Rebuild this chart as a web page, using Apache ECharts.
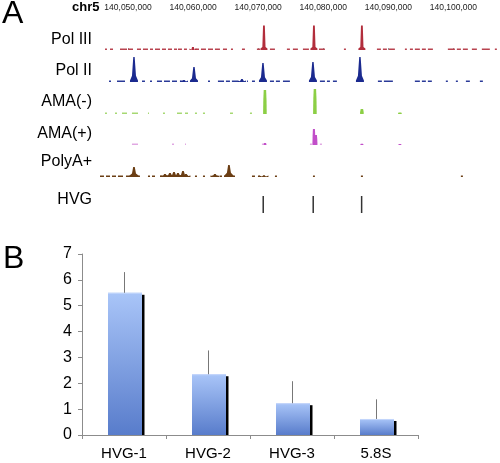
<!DOCTYPE html>
<html><head><meta charset="utf-8">
<script src="https://cdn.jsdelivr.net/npm/echarts@6/dist/echarts.min.js"></script>
<style>html,body{margin:0;padding:0;background:#fff}#c{width:500px;height:463px}</style>
</head><body><div id="c"></div>
<script>
// ---------- Panel A: chr5 positions in kb ----------
const genomeRange = [140045.7, 140106.7];
const tickPositions = [140050, 140060, 140070, 140080, 140090, 140100];
const trackNames = ['Pol III', 'Pol II', 'AMA(-)', 'AMA(+)', 'PolyA+', 'HVG'];

// peaks: [position kb, signal]
const polIIIPeaks = [[140070.89, 24.5], [140078.57, 24.5], [140085.94, 24.5], [140059.98, 3]];
const polIIINoise = [[140046.47,140046.77],[140047.24,140047.70],[140048.77,140049.85],[140050.00,140050.77],[140051.38,140052.00],[140052.30,140053.07],[140053.38,140053.84],[140054.15,140054.92],[140055.22,140055.84],[140056.14,140056.76],[140057.07,140057.53],[140057.68,140058.29],[140058.60,140059.06],[140060.29,140060.91],[140061.21,140061.98],[140062.29,140063.06],[140063.36,140064.13],[140064.59,140065.21],[140065.82,140066.13],[140067.51,140067.97],[140069.81,140070.28],[140071.81,140072.58],[140074.42,140074.88],[140075.34,140076.11],[140076.88,140077.80],[140079.34,140080.26],[140083.18,140083.49],[140088.25,140088.86],[140089.17,140089.78],[140090.09,140091.01],[140092.55,140092.85],[140093.32,140093.78],[140094.08,140094.85],[140095.16,140095.77],[140096.08,140096.85],[140099.15,140100.23],[140100.53,140101.15],[140101.46,140102.22],[140102.84,140103.61],[140104.37,140105.60],[140106.37,140106.68]];

const polIIPeaks = [[140050.92, 25], [140060.14, 15], [140070.74, 19], [140078.42, 20], [140085.64, 25], [140067.51, 3], [140058.60, 2]];
const polIINoise = [[140047.08,140047.39],[140048.31,140049.54],[140052.15,140052.61],[140053.38,140053.69],[140054.45,140055.22],[140055.53,140056.45],[140056.76,140057.53],[140057.99,140058.45],[140062.29,140062.60],[140063.82,140064.75],[140065.05,140065.67],[140065.97,140066.90],[140068.28,140068.43],[140069.05,140069.51],[140071.81,140072.43],[140072.73,140073.35],[140073.81,140074.88],[140079.49,140080.26],[140080.57,140081.03],[140081.49,140082.10],[140088.40,140089.01],[140089.32,140090.70],[140094.08,140094.85],[140095.16,140095.77],[140096.08,140096.69],[140098.84,140099.15],[140100.38,140100.69],[140101.92,140102.53],[140104.07,140104.53]];

const amaMinusPeaks = [[140071.04, 24], [140078.72, 25], [140085.94, 5], [140091.78, 1.5]];
const amaMinusNoise = [[140046.47,140046.77],[140048.00,140048.31],[140049.08,140049.85],[140050.61,140051.54],[140053.07,140053.23],[140055.38,140055.68],[140057.53,140058.29],[140058.76,140059.22],[140060.29,140060.60],[140061.52,140061.83],[140065.67,140066.13],[140068.74,140069.05]];

const amaPlusPeaks = [[140078.57, 16], [140078.88, 10], [140071.04, 2], [140085.94, 1.2], [140091.78, 1]];
const amaPlusNoise = [[140050.61,140051.54],[140056.76,140057.07],[140058.76,140058.91],[140070.58,140070.74],[140077.96,140078.26],[140079.49,140079.80]];

const polyAPeaks = [[140050.92, 10], [140055.68, 3], [140056.45, 4], [140057.07, 5], [140057.68, 4], [140058.45, 6], [140058.91, 3], [140063.36, 3], [140065.51, 12], [140070.89, 1.5]];
const polyANoise = [[140045.70,140046.31],[140046.62,140047.24],[140047.54,140048.16],[140048.46,140049.23],[140049.69,140051.84],[140053.07,140053.38],[140053.69,140054.15],[140054.92,140059.22],[140060.29,140060.60],[140061.52,140061.83],[140062.90,140063.82],[140064.13,140064.44],[140064.75,140066.44],[140069.05,140069.51],[140069.97,140070.28],[140070.74,140071.04],[140072.58,140072.89],[140078.42,140078.72],[140085.79,140086.10],[140101.15,140101.46]];

const hvgPositions = [140070.78, 140078.46, 140085.90];

// ---------- Panel B ----------
const categories = ['HVG-1', 'HVG-2', 'HVG-3', '5.8S'];
const values = [5.5, 2.35, 1.23, 0.62];
const errors = [0.8, 0.92, 0.85, 0.76];
const yTicks = [0, 1, 2, 3, 4, 5, 6, 7];

// ---------- layout / style ----------
const trackColors = ['#b22e3c', '#1b2a8f', '#8ccf45', '#c24fc9', '#6b3e14'];
const noiseColors = ['#b8434f', '#2a3a98', '#a6d872', '#e0a8e2', '#6b3e14'];
const trackTops = [25, 57, 89, 120, 152];
const trackShapes = [
  {bw: 3.5, mw: 1.6, mf: 0.12, tw: 0.9},
  {bw: 4.0, mw: 2.0, mf: 0.25, tw: 0.7},
  {bw: 1.8, mw: 1.6, mf: 0.6, tw: 1.2},
  {bw: 1.5, mw: 1.3, mf: 0.6, tw: 1.0},
  {bw: 4.5, mw: 2.0, mf: 0.35, tw: 0.8}
];
const peakSets = [polIIIPeaks, polIIPeaks, amaMinusPeaks, amaPlusPeaks, polyAPeaks];
const noiseSets = [polIIINoise, polIINoise, amaMinusNoise, amaPlusNoise, polyANoise];

function commas(n) { return String(Math.round(n)).replace(/\B(?=(\d{3})+(?!\d))/g, ','); }
const FONT = 'Liberation Sans, Arial, Helvetica, sans-serif';

const grids = [], xAxes = [], yAxes = [], series = [];
for (let i = 0; i < 5; i++) {
  grids.push({left: 100, width: 397, top: trackTops[i], height: 25});
  const ax = {gridIndex: i, type: 'value', min: genomeRange[0], max: genomeRange[1], show: i === 0,
    splitLine: {show: false}, axisLine: {show: false}};
  if (i === 0) {
    Object.assign(ax, {position: 'top', offset: 10,
      axisTick: {show: true, length: 2, lineStyle: {color: '#999'}, customValues: tickPositions},
      axisLabel: {customValues: tickPositions, formatter: v => commas(v * 1000), fontSize: 8.5, margin: 3, color: '#222', fontFamily: FONT}});
  }
  xAxes.push(ax);
  yAxes.push({gridIndex: i, type: 'value', min: 0, max: 25, show: false});
  const shp = trackShapes[i], col = trackColors[i];
  series.push({type: 'custom', xAxisIndex: i, yAxisIndex: i, clip: false,
    encode: {x: [0, 1]}, data: noiseSets[i],
    renderItem: (p, api) => {
      const a = api.coord([api.value(0), 0]), b = api.coord([api.value(1), 0]);
      return {type: 'rect', shape: {x: a[0], y: a[1] - 1.5, width: Math.max(1, b[0] - a[0]), height: 1.5},
        style: {fill: noiseColors[i]}};
    }});
  series.push({type: 'custom', xAxisIndex: i, yAxisIndex: i, clip: false,
    encode: {x: 0, y: 1}, data: peakSets[i],
    renderItem: (p, api) => {
      const b = api.coord([api.value(0), 0]), t = api.coord([api.value(0), api.value(1)]);
      const c = b[0], y0 = b[1], h = y0 - t[1];
      const pts = [[c - shp.bw, y0], [c - shp.bw, y0 - Math.min(1.5, h)], [c - shp.mw, y0 - h * shp.mf],
        [c - shp.tw, t[1]], [c + shp.tw, t[1]], [c + shp.mw, y0 - h * shp.mf], [c + shp.bw, y0 - Math.min(1.5, h)], [c + shp.bw, y0]];
      return {type: 'polygon', shape: {points: pts}, style: {fill: col}};
    }});
}
// HVG track
grids.push({left: 100, width: 397, top: 196, height: 17});
xAxes.push({gridIndex: 5, type: 'value', min: genomeRange[0], max: genomeRange[1], show: false});
yAxes.push({gridIndex: 5, type: 'value', min: 0, max: 1, show: false});
series.push({type: 'custom', xAxisIndex: 5, yAxisIndex: 5, encode: {x: 0},
  data: hvgPositions.map(v => [v]),
  renderItem: (p, api) => {
    const a = api.coord([api.value(0), 0]), b = api.coord([api.value(0), 1]);
    return {type: 'line', shape: {x1: a[0], y1: a[1], x2: b[0], y2: b[1]}, style: {stroke: '#333', lineWidth: 1.5}};
  }});

// Bar chart grid
grids.push({left: 82, width: 336, top: 254, height: 181});
xAxes.push({gridIndex: 6, type: 'category', data: categories, boundaryGap: true,
  axisLine: {lineStyle: {color: '#8c8c8c', width: 1}},
  axisTick: {show: true, length: 4, interval: 0, lineStyle: {color: '#8c8c8c'}},
  axisLabel: {fontSize: 15, color: '#000', margin: 11, fontFamily: FONT}});
yAxes.push({gridIndex: 6, type: 'value', min: 0, max: 7, interval: 1,
  splitLine: {show: false},
  axisLine: {show: true, lineStyle: {color: '#8c8c8c'}},
  axisTick: {show: true, length: 4, lineStyle: {color: '#8c8c8c'}},
  axisLabel: {fontSize: 16, color: '#000', margin: 10, fontFamily: FONT}});
series.push({type: 'custom', xAxisIndex: 6, yAxisIndex: 6,
  data: values.map((v, i) => [i, v]),
  renderItem: (p, api) => {
    const b = api.coord([api.value(0), 0]), t = api.coord([api.value(0), api.value(1)]);
    const w = 34, x = b[0] - w / 2 + 1, h = b[1] - t[1];
    return {type: 'group', children: [
      {type: 'rect', shape: {x: x + w - 0.5, y: t[1] + 2, width: 3, height: h - 2}, style: {fill: '#000'}},
      {type: 'rect', shape: {x: x, y: t[1], width: w, height: h},
        style: {fill: new echarts.graphic.LinearGradient(0, 0, 0, 1, [{offset: 0, color: '#a9c5f8'}, {offset: 1, color: '#587ccb'}])}},
      {type: 'line', shape: {x1: x, y1: t[1] + 0.5, x2: x + w, y2: t[1] + 0.5}, style: {stroke: '#c4d6fb', lineWidth: 1}}
    ]};
  }});
series.push({type: 'custom', xAxisIndex: 6, yAxisIndex: 6,
  data: values.map((v, i) => [i, v, v + errors[i]]),
  encode: {x: 0, y: [1, 2]},
  renderItem: (p, api) => {
    const a = api.coord([api.value(0), api.value(1)]), b = api.coord([api.value(0), api.value(2)]);
    return {type: 'line', shape: {x1: a[0] + 0.5, y1: a[1], x2: b[0] + 0.5, y2: b[1]}, style: {stroke: '#777', lineWidth: 1}};
  }});

const labelYs = [40, 71, 102, 134, 162, 200];
const graphics = [
  {type: 'text', left: 2, top: -2, style: {text: 'A', font: '32px ' + FONT, fill: '#000'}},
  {type: 'text', left: 72, top: 1, style: {text: 'chr5', font: 'bold 13px ' + FONT, fill: '#000'}},
  {type: 'text', left: 3, top: 243, style: {text: 'B', font: '32px ' + FONT, fill: '#000'}}
];
trackNames.forEach((n, i) => graphics.push({type: 'text', x: 92, y: labelYs[i],
  style: {text: n, font: '16px ' + FONT, fill: '#000', align: 'right', verticalAlign: 'middle'}}));

const chart = echarts.init(document.getElementById('c'), null, {renderer: 'canvas'});
chart.setOption({animation: false, backgroundColor: '#fff', grid: grids, xAxis: xAxes, yAxis: yAxes, series: series, graphic: graphics});
</script></body></html>
